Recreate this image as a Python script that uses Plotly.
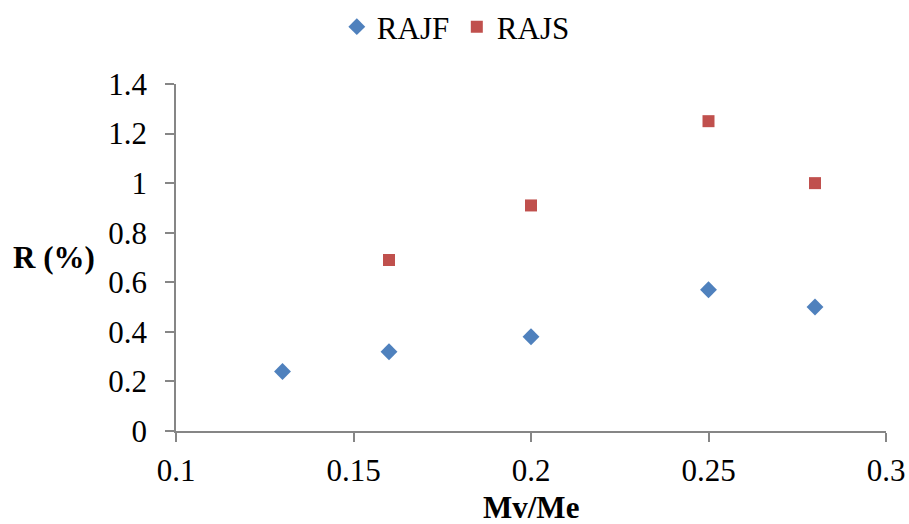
import plotly.graph_objects as go

# Mv/Me ratio vs. R (%) for two series
rajf_x = [0.13, 0.16, 0.20, 0.25, 0.28]
rajf_y = [0.24, 0.32, 0.38, 0.57, 0.50]
rajs_x = [0.16, 0.20, 0.25, 0.28]
rajs_y = [0.69, 0.91, 1.25, 1.00]

x_ticks = [0.1, 0.15, 0.2, 0.25, 0.3]
x_tick_labels = ["0.1", "0.15", "0.2", "0.25", "0.3"]
y_ticks = [0, 0.2, 0.4, 0.6, 0.8, 1.0, 1.2, 1.4]
y_tick_labels = ["0", "0.2", "0.4", "0.6", "0.8", "1", "1.2", "1.4"]

FONT = "Liberation Serif"
AXIS_GRAY = "#868686"
FS = 31

fig = go.Figure()
fig.add_trace(go.Scatter(
    x=rajf_x, y=rajf_y, mode="markers", name="RAJF",
    marker=dict(symbol="diamond", size=13, color="#4F81BD"),
))
fig.add_trace(go.Scatter(
    x=rajs_x, y=rajs_y, mode="markers", name="RAJS",
    marker=dict(symbol="square", size=12, color="#C0504D"),
))

fig.update_layout(
    width=909, height=524,
    margin=dict(l=176, r=23, t=84, b=93, autoexpand=False),
    paper_bgcolor="white", plot_bgcolor="white",
    font=dict(family=FONT, size=FS, color="black"),
    showlegend=True,
    legend=dict(
        orientation="h", x=0.2265, xanchor="left", y=1.0, yanchor="top",
        yref="container", font=dict(family=FONT, size=FS),
        entrywidth=75, itemsizing="trace",
    ),
)

fig.update_xaxes(
    range=[0.1, 0.3], tickvals=x_ticks, ticktext=x_tick_labels,
    showgrid=False, zeroline=False, automargin=False,
    showline=True, linecolor=AXIS_GRAY, linewidth=1.5,
    ticks="outside", ticklen=9, tickcolor=AXIS_GRAY, tickwidth=1.5,
    ticklabelstandoff=2,
)
fig.update_yaxes(
    range=[0, 1.4], tickvals=y_ticks, ticktext=y_tick_labels,
    showgrid=False, zeroline=False, automargin=False,
    showline=True, linecolor=AXIS_GRAY, linewidth=1.5,
    ticks="outside", ticklen=9, tickcolor=AXIS_GRAY, tickwidth=1.5,
    ticklabelstandoff=12,
)

fig.add_annotation(
    text="<b>Mv/Me</b>", xref="paper", yref="paper", x=0.5, y=0,
    yshift=-95, showarrow=False, font=dict(family=FONT, size=FS),
    xanchor="center", yanchor="bottom", borderpad=0,
)
fig.add_annotation(
    text="<b>R (%)</b>", xref="paper", yref="paper", x=0, y=0.5,
    xshift=-122, showarrow=False, font=dict(family=FONT, size=FS),
    xanchor="center", yanchor="middle",
)

fig.write_html("out.html")
